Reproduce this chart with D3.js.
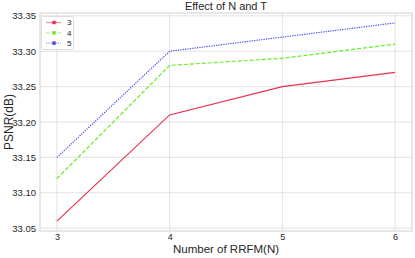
<!DOCTYPE html>
<html>
<head>
<meta charset="utf-8">
<script src="https://cdn.jsdelivr.net/npm/d3@7"></script>
<style>
  body { margin: 0; background: #fff; }
  text { font-family: "Liberation Sans", Arial, sans-serif; fill: #262626; }
</style>
</head>
<body>
<svg id="chart" width="415" height="258"></svg>
<script>
// Данные графика
const nValues = [3, 4, 5, 6];
const seriesNames = ['3', '4', '5'];
const psnr3 = [33.06, 33.21, 33.25, 33.27];
const psnr4 = [33.12, 33.28, 33.29, 33.31];
const psnr5 = [33.15, 33.30, 33.32, 33.34];
const yTicks = [33.05, 33.10, 33.15, 33.20, 33.25, 33.30, 33.35];

const series = [
    { name: seriesNames[0], values: psnr3, color: '#e8334f', dash: null },
    { name: seriesNames[1], values: psnr4, color: '#66ee22', dash: '4,2' },
    { name: seriesNames[2], values: psnr5, color: '#4444ff', dash: '1.2,1.2' }
];

const svg = d3.select('#chart');
const plotLeft = 40, plotRight = 412, plotTop = 13, plotBottom = 231;

const x = d3.scaleLinear().domain([2.85, 6.15]).range([plotLeft, plotRight]);
const y = d3.scaleLinear().domain([33.046, 33.354]).range([plotBottom, plotTop]);

// Сетка
svg.append('g')
    .selectAll('line')
    .data(nValues)
    .enter()
    .append('line')
    .attr('x1', d => x(d)).attr('x2', d => x(d))
    .attr('y1', plotTop).attr('y2', plotBottom)
    .attr('stroke', '#dcdcdc').attr('stroke-width', 0.8);

svg.append('g')
    .selectAll('line')
    .data(yTicks)
    .enter()
    .append('line')
    .attr('x1', plotLeft).attr('x2', plotRight)
    .attr('y1', d => y(d)).attr('y2', d => y(d))
    .attr('stroke', '#dcdcdc').attr('stroke-width', 0.8);

// Рамка
svg.append('rect')
    .attr('x', plotLeft).attr('y', plotTop)
    .attr('width', plotRight - plotLeft).attr('height', plotBottom - plotTop)
    .attr('fill', 'none').attr('stroke', '#d0d0d0').attr('stroke-width', 1);

// Оси
const xAxis = svg.append('g')
    .attr('transform', `translate(0,${plotBottom})`)
    .call(d3.axisBottom(x).tickValues(nValues).tickFormat(d3.format('d')).tickSize(0).tickPadding(3));
xAxis.select('.domain').remove();
xAxis.selectAll('text').style('font-size', '9px').attr('fill', '#262626');

const yAxis = svg.append('g')
    .attr('transform', `translate(${plotLeft},0)`)
    .call(d3.axisLeft(y).tickValues(yTicks).tickFormat(d3.format('.2f')).tickSize(0).tickPadding(4));
yAxis.select('.domain').remove();
yAxis.selectAll('text').style('font-size', '9.5px').attr('fill', '#262626');

// Линии
const line = d3.line()
    .x((d, i) => x(nValues[i]))
    .y(d => y(d));

svg.append('g')
    .selectAll('path')
    .data(series)
    .enter()
    .append('path')
    .attr('d', d => line(d.values))
    .attr('fill', 'none')
    .attr('stroke', d => d.color)
    .attr('stroke-width', 1.2)
    .attr('stroke-dasharray', d => d.dash);

// Подписи
svg.append('text')
    .attr('x', (plotLeft + plotRight) / 2).attr('y', 10)
    .attr('text-anchor', 'middle')
    .style('font-size', '11px')
    .text('Effect of N and T');

svg.append('text')
    .attr('x', (plotLeft + plotRight) / 2).attr('y', 253)
    .attr('text-anchor', 'middle')
    .style('font-size', '11.5px')
    .text('Number of RRFM(N)');

svg.append('text')
    .attr('transform', `translate(9,${(plotTop + plotBottom) / 2}) rotate(-90)`)
    .attr('text-anchor', 'middle')
    .attr('dy', '0.35em')
    .style('font-size', '12px')
    .text('PSNR(dB)');

// Легенда
const legend = svg.append('g');
legend.append('rect')
    .attr('x', 41.5).attr('y', 16.5)
    .attr('width', 32).attr('height', 33)
    .attr('rx', 2)
    .attr('fill', '#fff').attr('fill-opacity', 0.8)
    .attr('stroke', '#dddddd');

const items = legend.selectAll('g.item')
    .data(series)
    .enter()
    .append('g')
    .attr('class', 'item')
    .attr('transform', (d, i) => `translate(0,${22.5 + i * 10.3})`);

items.append('line')
    .attr('x1', 46).attr('x2', 61)
    .attr('stroke', d => d.color)
    .attr('stroke-opacity', 0.55)
    .attr('stroke-width', 1.2)
    .attr('stroke-dasharray', d => d.dash);

items.append('rect')
    .attr('x', 52.3).attr('y', -1.7)
    .attr('width', 3.4).attr('height', 3.4)
    .attr('fill', d => d.color);

items.append('text')
    .attr('x', 67).attr('dy', '0.35em')
    .style('font-size', '8px')
    .text(d => d.name);
</script>
</body>
</html>
